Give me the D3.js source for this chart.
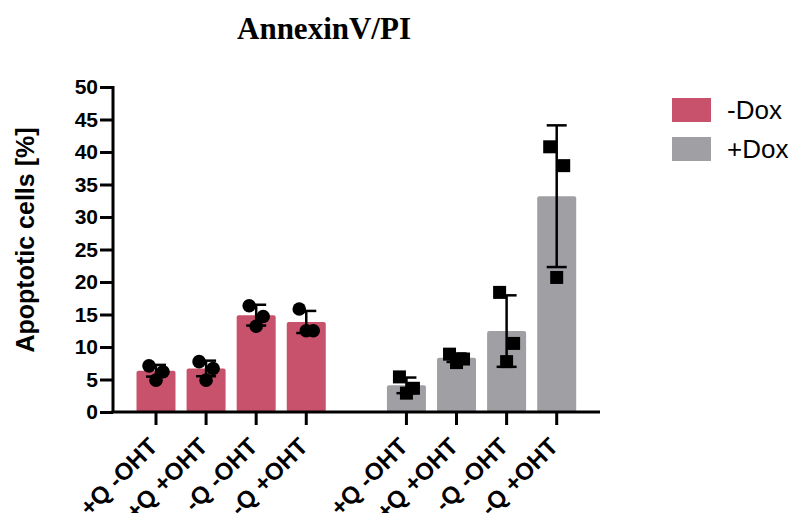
<!DOCTYPE html>
<html><head><meta charset="utf-8">
<script src="https://cdn.jsdelivr.net/npm/d3@7"></script>
<style>body{margin:0;background:#fff}</style>
</head><body>
<script>
const categories = ["+Q -OHT", "+Q +OHT", "-Q -OHT", "-Q +OHT"];
const groups = ["-Dox", "+Dox"];
const meanMinusDox = [6.35, 6.7, 14.9, 13.85];
const sdMinusDox = [0.9, 1.2, 1.6, 1.7];
const ptsMinusDox = [[7.1, 6.2, 4.9], [7.75, 6.7, 4.9], [16.35, 14.7, 13.2], [15.85, 12.5, 12.5]];
const meanPlusDox = [4.1, 8.35, 12.45, 33.2];
const sdPlusDox = [1.2, 0.65, 5.5, 10.9];
const ptsPlusDox = [[5.4, 3.65, 2.9], [8.9, 8.15, 7.6], [18.4, 10.55, 7.75], [40.8, 37.9, 20.7]];
const yTicks = [0, 5, 10, 15, 20, 25, 30, 35, 40, 45, 50];
const colors = ["#c8526b", "#a09fa4"];

const W = 796, H = 513;
const svg = d3.select("body").append("svg").attr("width", W).attr("height", H);

const y = d3.scaleLinear().domain([0, 50]).range([412, 87]);
const xc = d3.scalePoint().domain(["a0","a1","a2","a3","gap1","b0","b1","b2","b3"]).range([156, 556.7]);
const barW = 39;

const data = [];
categories.forEach((c, i) => data.push({g: 0, c, key: "a" + i, mean: meanMinusDox[i], sd: sdMinusDox[i], pts: ptsMinusDox[i]}));
categories.forEach((c, i) => data.push({g: 1, c, key: "b" + i, mean: meanPlusDox[i], sd: sdPlusDox[i], pts: ptsPlusDox[i]}));

// title
svg.append("text").attr("x", 324).attr("y", 39).attr("text-anchor", "middle")
  .style("font-family", "Liberation Serif, Times New Roman, serif").style("font-weight", "bold")
  .style("font-size", "31px").text("AnnexinV/PI");

// bars
svg.selectAll("rect.bar").data(data).enter().append("rect")
  .attr("x", d => xc(d.key) - barW / 2).attr("width", barW)
  .attr("y", d => y(d.mean)).attr("height", d => y(0) - y(d.mean))
  .attr("rx", 2).attr("fill", d => colors[d.g]);

// points
data.forEach(d => {
  const offs = [-7, 7, 0];
  d.pts.forEach((v, j) => {
    const cx = xc(d.key) + offs[j];
    if (d.g === 0) {
      svg.append("circle").attr("cx", cx).attr("cy", y(v)).attr("r", 6.8).attr("fill", "#000");
    } else {
      svg.append("rect").attr("x", cx - 6.5).attr("y", y(v) - 6.5).attr("width", 13).attr("height", 13).attr("fill", "#000");
    }
  });
});

// error bars
const eb = svg.append("g").attr("stroke", "#000").attr("stroke-width", 2.5);
data.forEach(d => {
  const cx = xc(d.key);
  eb.append("line").attr("x1", cx).attr("x2", cx).attr("y1", y(d.mean + d.sd)).attr("y2", y(d.mean - d.sd));
  eb.append("line").attr("x1", cx - 10).attr("x2", cx + 10).attr("y1", y(d.mean + d.sd)).attr("y2", y(d.mean + d.sd));
  eb.append("line").attr("x1", cx - 10).attr("x2", cx + 10).attr("y1", y(d.mean - d.sd)).attr("y2", y(d.mean - d.sd));
});

// y axis
const yAxis = d3.axisLeft(y).tickValues(yTicks).tickSize(13).tickPadding(2);
const gy = svg.append("g").attr("transform", "translate(113,0)").call(yAxis);
gy.select(".domain").attr("stroke-width", 3).attr("d", "M0,412V86");
gy.selectAll(".tick line").attr("stroke-width", 3);
gy.selectAll(".tick text").style("font-family", "Liberation Sans, Arial, sans-serif")
  .style("font-weight", "bold").style("font-size", "21px").attr("fill", "#000");

// x axis
const gx = svg.append("g").attr("transform", "translate(0,412)");
gx.append("line").attr("x1", 111.5).attr("x2", 600).attr("stroke", "#000").attr("stroke-width", 3);
data.forEach(d => {
  const cx = xc(d.key);
  gx.append("line").attr("x1", cx).attr("x2", cx).attr("y1", 0).attr("y2", 13).attr("stroke", "#000").attr("stroke-width", 3);
  gx.append("text").attr("transform", `translate(${cx + 3},${36}) rotate(-45)`)
    .attr("text-anchor", "end")
    .style("font-family", "Liberation Sans, Arial, sans-serif").style("font-weight", "bold")
    .style("font-size", "24px").text(d.c);
});

// y label
svg.append("text").attr("transform", "translate(34,240) rotate(-90)").attr("text-anchor", "middle")
  .style("font-family", "Liberation Sans, Arial, sans-serif").style("font-weight", "bold")
  .style("font-size", "25px").text("Apoptotic cells [%]");

// legend
groups.forEach((g, i) => {
  svg.append("rect").attr("x", 672).attr("y", 98 + i * 39).attr("width", 39).attr("height", 24).attr("fill", colors[i]);
  svg.append("text").attr("x", 727).attr("y", 119 + i * 39)
    .style("font-family", "Liberation Sans, Arial, sans-serif").style("font-size", "26px").text(g);
});
</script>
</body></html>
